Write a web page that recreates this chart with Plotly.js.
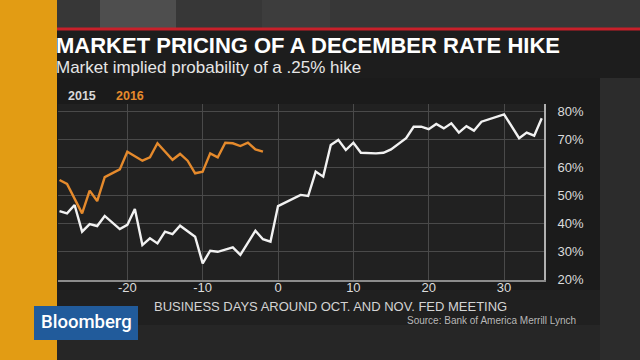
<!DOCTYPE html>
<html><head><meta charset="utf-8">
<script src="https://cdn.plot.ly/plotly-3.0.1.min.js"></script>
<style>html,body{margin:0;padding:0;background:#1c1c1c;}#chart{width:640px;height:360px;}</style>
</head><body><div id="chart"></div>
<script>
// ---- data ----
const days2015 = [-29,-28,-27,-26,-25,-24,-23,-21,-20,-19,-18,-17,-16,-15,-14,-13,-11,-10,-9,-8,-6,-5,-3,-2,-1,0,3,4,5,6,7,8,9,10,11,13,14,15,17,18,19,20,21,22,23,24,25,26,27,30,32,33,34,35];
const prob2015 = [44.3,43.5,46.5,37.0,39.7,39.0,42.6,37.9,39.4,45.1,32.2,34.6,32.8,37.0,36.1,39.1,35.2,25.7,30.2,29.8,31.4,28.7,37.3,34.3,33.4,46.1,50.1,49.7,58.4,56.6,67.9,69.7,66.1,68.7,65.1,64.9,65.1,66.3,70.3,74.4,74.4,73.5,75.4,73.8,75.6,72.3,74.6,73.0,76.2,78.8,70.3,72.3,71.2,77.4];
const days2016 = [-29,-28,-26,-25,-24,-23,-21,-20,-18,-17,-16,-14,-13,-12,-11,-10,-9,-8,-7,-6,-5,-4,-3,-2];
const prob2016 = [55.4,54.0,43.5,51.6,47.9,56.4,59.2,65.5,62.3,63.5,68.5,62.6,64.7,62.3,57.8,58.4,64.9,63.5,68.7,68.5,67.5,68.7,66.3,65.5];
const seriesNames = ['2015','2016'];
const xTickVals = [-20,-10,0,10,20,30];
const xTickText = ['-20','-10','0','10','20','30'];
const yTickVals = [20,30,40,50,60,70,80];
const yTickText = ['20%','30%','40%','50%','60%','70%','80%'];
const titleText = 'MARKET PRICING OF A DECEMBER RATE HIKE';
const subtitleText = 'Market implied probability of a .25% hike';
const xTitleText = 'BUSINESS DAYS AROUND OCT. AND NOV. FED MEETING';
const sourceText = 'Source: Bank of America Merrill Lynch';
const brandText = 'Bloomberg';

// ---- layout helpers (pixel -> paper) ----
const L = 58, R = 544, T = 104, B = 280;
const px = x => (x - L) / (R - L);
const py = y => (B - y) / (B - T);
const FONT = 'Liberation Sans, Arial, sans-serif';
const WHITE = '#f2f2f2', ORANGE = '#e58a2c';

function rect(x0, y0, x1, y1, color) {
  return {type:'rect', xref:'paper', yref:'paper', x0:px(x0), x1:px(x1), y0:py(y1), y1:py(y0),
          fillcolor:color, line:{width:0}, layer:'below'};
}

const shapes = [
  rect(0, 0, 640, 360, '#222222'),
  rect(57, 0, 640, 28, '#373737'),
  rect(100, 0, 176, 28, '#4e4e4e'),
  rect(262, 0, 330, 28, '#3d3d3d'),
  rect(57, 30, 640, 78, '#1d1d1d'),
  rect(57, 78, 600, 290, '#1b1b1b'),
  rect(57, 290, 600, 325, '#202020'),
  rect(57, 325, 600, 360, '#262626'),
  rect(600, 78, 640, 360, '#2c2c2c'),
  rect(L, T, R, B, '#212121'),
  rect(0, 0, 57, 360, '#e29c14'),
  rect(57, 27.5, 640, 30.5, '#c8202a'),
  rect(34, 306, 138, 340, '#215b9b')
];

function ann(text, x, y, size, color, xanchor, fam, weight) {
  return {text, x:px(x), y:py(y), xref:'paper', yref:'paper', showarrow:false,
    xanchor, yanchor:'middle', font:{family:fam || FONT, size, color, weight: weight || 'normal'}};
}

const annotations = [
  ann('<b>' + titleText + '</b>', 54, 45, 22, '#ffffff', 'left'),
  ann(subtitleText, 54, 67, 17, '#e6e6e6', 'left'),
  ann('<b>' + seriesNames[0] + '</b>', 66, 96, 12.5, '#d8d8d8', 'left'),
  ann('<b>' + seriesNames[1] + '</b>', 114, 96, 12.5, ORANGE, 'left'),
  ann(xTitleText, 330, 306, 13, '#d4d4d4', 'center'),
  ann(sourceText, 578, 320, 10, '#b8b8b8', 'right'),
  ann(brandText, 86, 322, 18.5, '#ffffff', 'center', 'Roboto, Liberation Sans, sans-serif', 500)
];

const traces = [
  {x: days2015, y: prob2015, name: seriesNames[0], type:'scatter', mode:'lines',
   line:{color:WHITE, width:2.4, shape:'linear'}, hoverinfo:'skip'},
  {x: days2016, y: prob2016, name: seriesNames[1], type:'scatter', mode:'lines',
   line:{color:ORANGE, width:2.4, shape:'linear'}, hoverinfo:'skip'}
];

const layout = {
  width:640, height:360,
  margin:{l:L, r:640-R, t:T, b:360-B, pad:0},
  paper_bgcolor:'#222222', plot_bgcolor:'rgba(0,0,0,0)',
  showlegend:false,
  font:{family:FONT, color:'#dddddd'},
  xaxis:{range:[-29.2, 35.3], tickvals:xTickVals, ticktext:xTickText, showgrid:true,
         gridcolor:'#4a4a4a', gridwidth:1, zeroline:false, showline:true, linecolor:'#8a8a8a',
         linewidth:1.5, ticks:'', ticklen:0, ticklabelstandoff:-5, tickfont:{family:FONT, size:13, color:'#dcdcdc'}, fixedrange:true},
  yaxis:{range:[19.75, 82.5], side:'right', tickvals:yTickVals, ticktext:yTickText, showgrid:true,
         gridcolor:'#4a4a4a', gridwidth:1, zeroline:false, showline:true, linecolor:'#b0b0b0',
         linewidth:2, ticks:'', ticklen:0, ticklabelstandoff:9, tickfont:{family:FONT, size:13, color:'#dcdcdc'}, fixedrange:true},
  shapes, annotations
};

Plotly.newPlot('chart', traces, layout, {displayModeBar:false, staticPlot:true});
</script>
</body></html>
